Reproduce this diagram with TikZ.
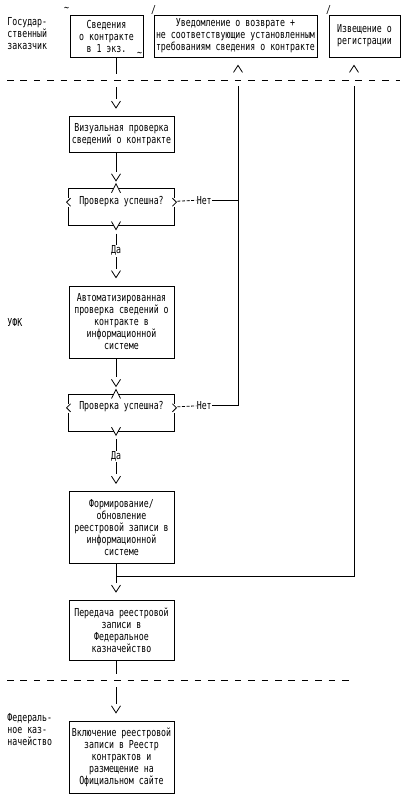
\documentclass[tikz,border=0pt]{standalone}
\usepackage{fontspec}
\setmainfont{DejaVu Sans Mono}[FakeStretch=0.75]
\usetikzlibrary{calc}
\usetikzlibrary{positioning}

\begin{document}
\begin{tikzpicture}[
          x = 1pt, y = -1pt,
          line width = .8pt,
          box/.style = {rectangle, draw, align=center, minimum width=105pt, inner xsep=1pt, inner ysep=0pt},
          check/.style = {rectangle, align=center, minimum width=105pt, text height=9pt, text depth=15pt, inner xsep=1pt, inner ysep=6pt},
          side/.style = {align=left, anchor=west, inner sep=0pt},
          yes/.style = {fill=white, inner sep=1pt},
          arrow/.style = {shorten >=17pt},
          back/.style = {shorten >=29pt},
          vdown/.pic = {\draw (-4.5,-15) -- (0,-8) -- (4.5,-15);},
          vup/.pic = {\draw (-4.5,15) -- (0,8) -- (4.5,15);},
          border/.style = {dash pattern=on 6.5pt off 6.9pt},
          font = \fontsize{11}{12}\selectfont,
          node distance = 36pt
        ]
        \useasboundingbox (0,0) rectangle (407,796);

        % Columns and borders
        \coordinate (spine) at (116,0);
        \coordinate (col2) at (238,0);
        \coordinate (col3) at (354,0);
        \coordinate (sepA) at (0,80);
        \coordinate (sepB) at (0,680);

        % Side labels
        \node[side] (zak) at (7,34) {Государ-\\ственный\\заказчик};
        \node[side] (ufk) at (7,322) {УФК};
        \node[side] (fed) at (7,730) {Федераль-\\ное каз-\\начейство};

        % Top boxes
        \node[box, minimum width=73pt, minimum height=42pt,
              label={[anchor=south east, inner sep=0pt, yshift=3pt]north west:\textasciitilde},
              label={[anchor=south east, inner sep=1pt]south east:\textasciitilde}] (sved) at (106.5,36) {Сведения\\о контракте\\в 1 экз.};
        \node[box, minimum width=163pt, minimum height=42pt,
              label={[anchor=south, inner sep=0pt]north west:/}] (vozv) at (235.5,36) {Уведомление о возврате +\\не соответствующие установленным\\требованиям сведения о контракте};
        \node[box, minimum width=71pt, minimum height=42pt,
              label={[anchor=south, inner sep=0pt]north west:/}] (izv) at (364.5,36) {Извещение о\\регистрации};

        % Main column
        \node[box, minimum height=36pt, anchor=north] (viz) at (121.5,116) {Визуальная проверка\\сведений о контракте};
        \node[check, below=of viz] (chk1) {Проверка успешна?};
        \node[box, minimum height=72pt, below=60pt of chk1] (avt) {Автоматизированная\\проверка сведений о\\контракте в\\информационной\\системе};
        \node[check, below=of avt] (chk2) {Проверка успешна?};
        \node[box, minimum height=72pt, below=60pt of chk2] (form) {Формирование/\\обновление\\реестровой записи в\\информационной\\системе};
        \node[box, minimum height=60pt, below=of form] (pered) {Передача реестровой\\записи в\\Федеральное\\казначейство};
        \node[box, minimum height=72pt, below=60pt of pered] (vkl) {Включение реестровой\\записи в Реестр\\контрактов и\\размещение на\\Официальном сайте};

        % Frames of the checks
        \foreach \dec in {chk1,chk2} {
          \draw ($(\dec.base west)+(0,-6)$) -- (\dec.north west) -- ($(spine |- \dec.north)+(-2.5,0)$);
          \draw ($(spine |- \dec.north)+(2.5,0)$) -- (\dec.north east) -- ($(\dec.base east)+(0,-6)$);
          \draw ($(\dec.base west)+(0,3)$) -- (\dec.south west) -- ($(spine |- \dec.south)+(-2.3,0)$);
          \draw ($(spine |- \dec.south)+(2.3,0)$) -- (\dec.south east) -- ($(\dec.base east)+(0,3)$);
          \draw ($(spine |- \dec.north)+(-4.5,4)$) -- ($(spine |- \dec.north)+(0,-5)$) -- ($(spine |- \dec.north)+(4.5,4)$);
          \draw ($(spine |- \dec.south)+(-4.5,-4)$) -- ($(spine |- \dec.south)+(0,4)$) -- ($(spine |- \dec.south)+(4.5,-4)$);
          \draw ($(\dec.base west)+(2,-6)$) -- ($(\dec.base west)+(-2,-2)$) -- ($(\dec.base west)+(2,2)$);
          \draw ($(\dec.base east)+(-2,-6)$) -- ($(\dec.base east)+(2,-2)$) -- ($(\dec.base east)+(-2,2)$);
        }

        % Borders between participants
        \draw[border] (7,80) -- (400,80);
        \draw[border] (7,680) -- (352,680);

        % Main flow
        \draw (sved.south -| spine) -- ($(spine |- sepA)+(0,-6)$);
        \draw[arrow] ($(spine |- sepA)+(0,7)$) -- (viz.north -| spine);
        \draw[arrow] (viz.south -| spine) -- (chk1.north -| spine);
        \draw[arrow, shorten <=8pt] (chk1.south -| spine) -- node[yes, pos=.42] {Да} (avt.north -| spine);
        \draw[arrow] (avt.south -| spine) -- (chk2.north -| spine);
        \draw[arrow, shorten <=8pt] (chk2.south -| spine) -- node[yes, pos=.42] {Да} (form.north -| spine);
        \draw[arrow] (form.south -| spine) -- (pered.north -| spine);
        \draw (pered.south -| spine) -- ($(spine |- sepB)+(0,-6)$);
        \draw[arrow] ($(spine |- sepB)+(0,7)$) -- (vkl.north -| spine);
        \foreach \dst in {viz,chk1,avt,chk2,form,pered,vkl}
          \pic at (\dst.north -| spine) {vdown};

        % Returns
        \node[anchor=base west, inner sep=0pt] (no1) at ($(chk1.base east)+(22,0)$) {Нет};
        \node[anchor=base west, inner sep=0pt] (no2) at ($(chk2.base east)+(22,0)$) {Нет};
        \draw[dash pattern=on 3pt off 1.6pt] ($(chk1.base east)+(3,-3)$) -- (no1.west);
        \draw[dash pattern=on 3pt off 1.6pt] ($(chk2.base east)+(3,-3)$) -- (no2.west);
        \draw (no1.east) -- (no1.east -| col2);
        \draw[back] (no2.east) -| (vozv.south -| col2);
        \draw[back] ($(form.south -| spine)+(0,12)$) -| (izv.south -| col3);
        \pic at (vozv.south -| col2) {vup};
        \pic at (izv.south -| col3) {vup};

      \end{tikzpicture}
\end{document}
